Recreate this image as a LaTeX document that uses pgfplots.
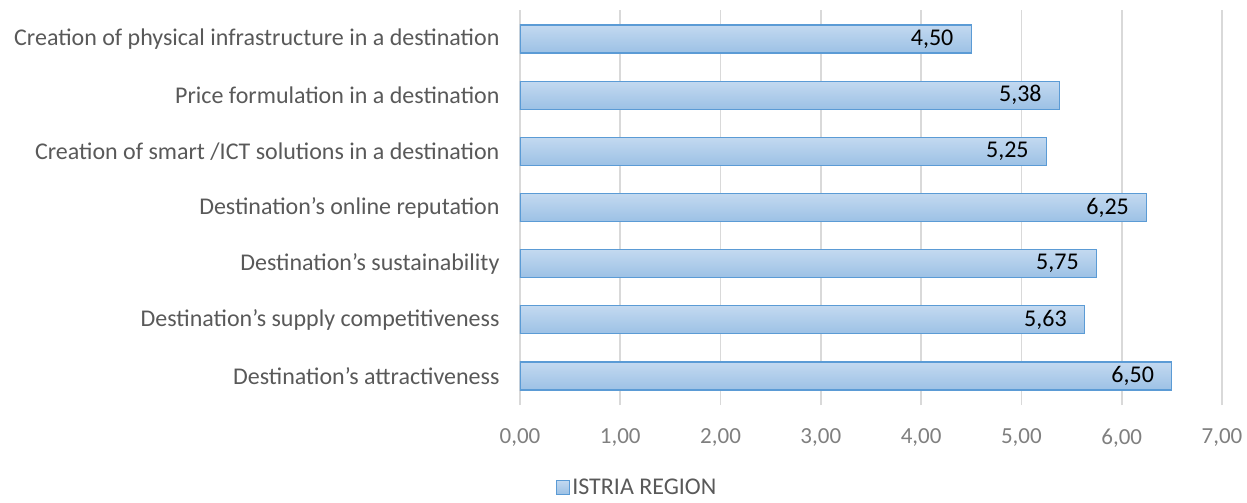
\documentclass[border=0pt]{standalone}
\usepackage{fontspec}
\setmainfont{Carlito}
\usepackage{pgfplots}
\pgfplotsset{compat=1.18}
\usetikzlibrary{calc}
\definecolor{barTop}{HTML}{C3D9F0}
\definecolor{barBot}{HTML}{9CC1E5}
\definecolor{barEdge}{HTML}{5B9BD5}
\definecolor{gridc}{HTML}{D9D9D9}
\definecolor{labc}{HTML}{595959}
\definecolor{tickc}{HTML}{7F7F7F}
\begin{document}
\begin{tikzpicture}
\begin{axis}[
  xbar,
  bar shift=0pt,
  scale only axis,
  width=702pt, height=395pt,
  xmin=0, xmax=7,
  ymin=-0.516, ymax=6.516,
  axis line style={draw=none},
  xmajorgrids, grid style={gridc, line width=1.6pt},
  xtick={0,1,...,7},
  ytick={0,...,6},
  yticklabels={Destination’s attractiveness,
               Destination’s supply competitiveness,
               Destination’s sustainability,
               Destination’s online reputation,
               Creation of smart /ICT solutions in a destination,
               Price formulation in a destination,
               Creation of physical infrastructure in a destination},
  major tick length=0pt,
  /pgf/number format/assume math mode=true,
  /pgf/number format/.cd, use comma, fixed, fixed zerofill, precision=2, 1000 sep={},
  /pgfplots/.cd,
  xticklabel style={font=\fontsize{23}{26}\selectfont, text=tickc, yshift=-20pt},
  yticklabel style={font=\fontsize{24}{27}\selectfont, text=labc, xshift=-17pt},
  bar width=28pt,
  nodes near coords,
  every node near coord/.append style={anchor=east, xshift=-14pt, text=black,
     font=\fontsize{24}{27}\selectfont},
  legend style={draw=none, at={(rel axis cs:0.167,-0.208)}, anchor=center,
     font=\fontsize{24}{27}\selectfont, text=labc, fill=none, inner sep=1pt,
     /tikz/every odd column/.append style={column sep=0pt}},
  legend image code/.code={
     \draw[draw=barEdge, line width=1.2pt, top color=barTop, bottom color=barBot]
       (0pt,-7pt) rectangle (13pt,7pt);},
  barstyle/.style={draw=barEdge, line width=1.2pt, top color=barTop, bottom color=barBot},
]
% one plot per bar so that each bar gets its own top-to-bottom shading
\addplot[barstyle] coordinates {(6.50,0)};
\addlegendentry{ISTRIA REGION}
\addplot[barstyle, forget plot] coordinates {(5.63,1)};
\addplot[barstyle, forget plot] coordinates {(5.75,2)};
\addplot[barstyle, forget plot] coordinates {(6.25,3)};
\addplot[barstyle, forget plot] coordinates {(5.25,4)};
\addplot[barstyle, forget plot] coordinates {(5.38,5)};
\addplot[barstyle, forget plot] coordinates {(4.50,6)};
\coordinate (bl) at (rel axis cs:0,0);
\coordinate (tr) at (rel axis cs:1,1);
\end{axis}
\pgfresetboundingbox
\path[use as bounding box] ($(bl)+(-520pt,-97pt)$) rectangle ($(tr)+(25pt,10pt)$);
\end{tikzpicture}
\end{document}
